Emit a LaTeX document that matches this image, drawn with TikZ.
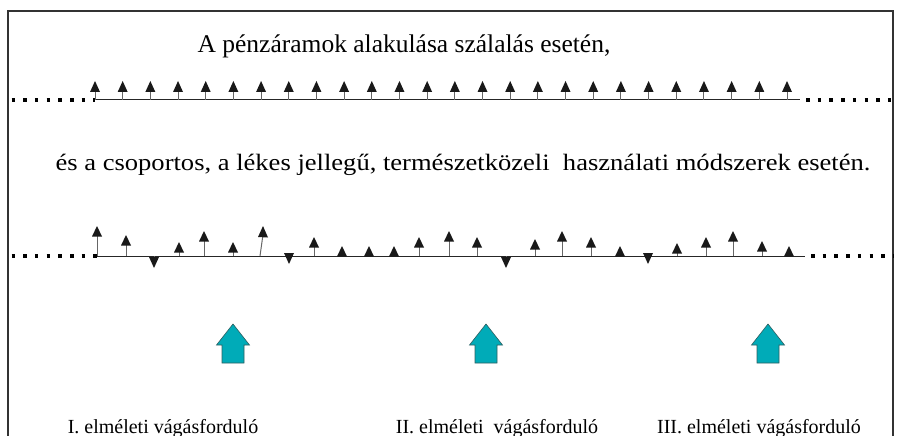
\documentclass[tikz,border=0pt]{standalone}
\usepackage{fontspec}
\setmainfont{Liberation Serif}
\definecolor{teal1}{HTML}{00ABB8}
\definecolor{tealline}{HTML}{2F5F60}
\tikzset{
  frameline/.style={line width=1.4pt, draw=black!80},
  baseln/.style={line width=1pt, draw=black!85},
  dotln/.style={line width=3.5pt, draw=black, dash pattern=on 3.5pt off 8.2pt},
  stemln/.style={line width=1pt, draw=black!60},
  headfill/.style={fill=black!90},
  blockarrow/.style={fill=teal1, draw=tealline, line width=0.6pt},
  ttl/.style={anchor=base, inner sep=0pt, font=\fontsize{25.5}{30}\selectfont},
  sub/.style={anchor=base, inner sep=0pt, xscale=1.13, font=\fontsize{23.5}{28}\selectfont},
  lbl/.style={anchor=base, inner sep=0pt, font=\fontsize{20}{24}\selectfont}
}
\begin{document}
\begin{tikzpicture}[x=1pt, y=-1pt]
\useasboundingbox (0,0) rectangle (898,436);
% frame
\draw[frameline] (8,437) -- (8,11) -- (893,11) -- (893,437);
% titles
\node[ttl] (title) at (404,53) {A pénzáramok alakulása szálalás esetén,};
\node[sub] (subt) at (463,170) {és a csoportos, a lékes jellegű, természetközeli\ \ használati módszerek esetén.};
% top row
\coordinate (t0) at (95,100);
\coordinate (t1) at (800,100);
\draw[dotln] (11.5,100) -- (95,100);
\draw[dotln] (806,100) -- (893,100);
\draw[baseln] (t0) -- (t1);
\foreach \i in {0,...,25}{
  \pgfmathsetmacro{\xx}{95+\i*27.68}
  \draw[stemln] (\xx,100) -- (\xx,91);
  \fill[headfill] (\xx-5,92) -- (\xx+5,92) -- (\xx,81) -- cycle;
}
% bottom row
\coordinate (b0) at (97,256);
\coordinate (b1) at (805,256);
\draw[dotln] (11.5,256) -- (97,256);
\draw[dotln] (811,256) -- (893,256);
\draw[baseln] (b0) -- (b1);
% up arrows: x/tip
\foreach \xx/\tt in {97/226,126/235,179/242,204/231,233/242,314/237,342/246,369/246,394/246,419/237,449/231,477/237,535/239,562/231,591/237,620/246,677/243,706/237,733/231,762/241,789/246}{
  \draw[stemln] (\xx,256) -- (\xx,\tt+9);
  \fill[headfill] (\xx-5,\tt+10.5) -- (\xx+5,\tt+10.5) -- (\xx,\tt) -- cycle;
}
% slanted arrow
\draw[stemln] (260,256) -- (262.8,236);
\fill[headfill] (258,237) -- (268,237.5) -- (263,226) -- cycle;
% down arrows
\foreach \xx/\tt in {154/268,289/264,506/268,648/264}{
  \draw[stemln] (\xx,256) -- (\xx,\tt-9);
  \fill[headfill] (\xx-5,\tt-11) -- (\xx+5,\tt-11) -- (\xx,\tt) -- cycle;
}
% block arrows
\foreach \cx/\nm in {233/ba1,486/ba2,768/ba3}{
  \draw[blockarrow] (\cx-11,363) -- (\cx-11,345) -- (\cx-16.5,345) -- (\cx,324) -- (\cx+16.5,345) -- (\cx+11,345) -- (\cx+11,363) -- cycle;
}
% labels
\node[lbl] (l1) at (163,433) {I.\ elméleti vágásforduló};
\node[lbl] (l2) at (497,433) {II. elméleti\ \ vágásforduló};
\node[lbl] (l3) at (759,433) {III. elméleti vágásforduló};
\end{tikzpicture}
\end{document}
